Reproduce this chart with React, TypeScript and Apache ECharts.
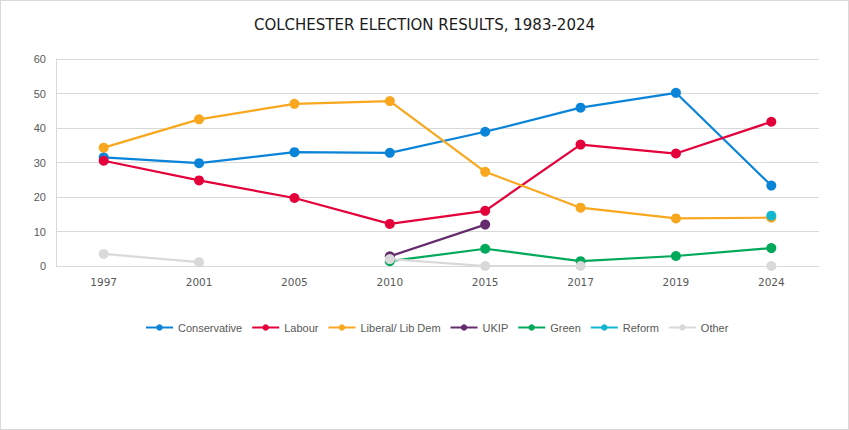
import React, { useEffect, useRef } from 'react';
import * as echarts from 'echarts';

const years = ['1997', '2001', '2005', '2010', '2015', '2017', '2019', '2024'];
const conservative = [31.5, 29.8, 33.0, 32.8, 38.9, 45.9, 50.2, 23.3];
const labour = [30.5, 24.8, 19.7, 12.2, 16.0, 35.2, 32.6, 41.8];
const libDem = [34.3, 42.5, 47.0, 47.8, 27.3, 16.9, 13.8, 14.0];
const ukip = [null, null, null, 2.8, 12.0, null, null, null];
const green = [null, null, null, 1.4, 5.0, 1.4, 2.9, 5.2];
const reform = [null, null, null, null, null, null, null, 14.6];
const other = [3.5, 1.1, null, 2.0, 0, 0, null, 0];

const partyNames = ['Conservative', 'Labour', 'Liberal/ Lib Dem', 'UKIP', 'Green', 'Reform', 'Other'];
const partyColors = ['#0a84d8', '#e4003b', '#f9a71e', '#652c6d', '#02a95b', '#12b6cf', '#d9d9d9'];
const partyValues = [conservative, labour, libDem, ukip, green, reform, other];

const FONT = '"Liberation Sans", Arial, sans-serif';
const WIDE = '"DejaVu Sans", "Liberation Sans", sans-serif';

const App: React.FC = () => {
  const chartRef = useRef<HTMLDivElement>(null);

  useEffect(() => {
    document.body.style.margin = '0';
    if (!chartRef.current) return;
    const chart = echarts.init(chartRef.current, undefined, { renderer: 'svg' });

    chart.setOption({
      animation: false,
      backgroundColor: '#ffffff',
      title: {
        text: 'COLCHESTER ELECTION RESULTS, 1983-2024',
        left: 'center',
        top: 11,
        textStyle: { fontFamily: WIDE, fontSize: 15, fontWeight: 'normal', color: '#1a1a1a' },
      },
      grid: { left: 55, right: 29, top: 58, bottom: 163 },
      legend: {
        data: partyNames,
        left: 139,
        top: 316,
        itemWidth: 27,
        itemHeight: 8,
        itemGap: 9,
        textStyle: { fontFamily: FONT, fontSize: 11, color: '#595959' },
      },
      xAxis: {
        type: 'category',
        data: years,
        boundaryGap: true,
        axisTick: { show: false },
        axisLine: { lineStyle: { color: '#d9d9d9', width: 1 } },
        axisLabel: { color: '#595959', fontFamily: WIDE, fontSize: 10.5, margin: 10 },
      },
      yAxis: {
        type: 'value',
        min: 0,
        max: 60,
        interval: 10,
        axisLine: { show: true, lineStyle: { color: '#d9d9d9' } },
        axisTick: { show: false },
        splitLine: { lineStyle: { color: '#d9d9d9', width: 1 } },
        axisLabel: { color: '#595959', fontFamily: FONT, fontSize: 11, margin: 10 },
      },
      series: partyNames.map((name, i) => ({
        name,
        type: 'line',
        data: partyValues[i],
        connectNulls: false,
        symbol: 'circle',
        symbolSize: 10,
        lineStyle: { color: partyColors[i], width: 2.2 },
        itemStyle: { color: partyColors[i] },
      })),
    });

    return () => chart.dispose();
  }, []);

  return (
    <div
      ref={chartRef}
      style={{ width: 849, height: 430, boxSizing: 'border-box', border: '1px solid #d9d9d9' }}
    />
  );
};

export default App;
